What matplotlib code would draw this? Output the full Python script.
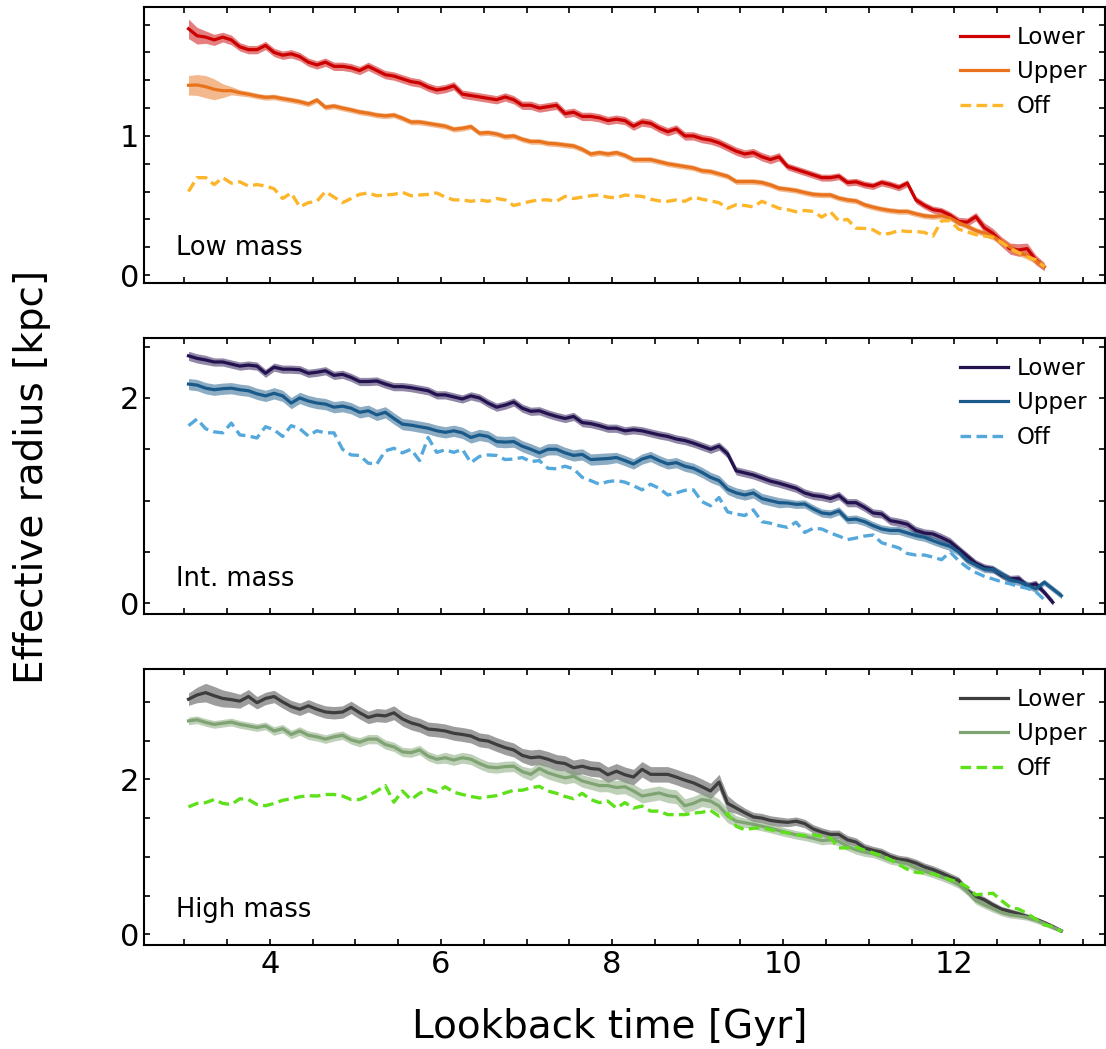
import numpy as np
import matplotlib
matplotlib.use('Agg')
import matplotlib.pyplot as plt
from matplotlib.ticker import MultipleLocator

# lookback time grid [Gyr], shorter series just stop earlier
lookback_time = np.round(np.arange(3.05, 13.26, 0.1), 2)

# ---- Low mass ----
low_lower = [1.77, 1.72, 1.71, 1.69, 1.71, 1.69, 1.64, 1.62, 1.62, 1.65,
             1.60, 1.58, 1.59, 1.57, 1.53, 1.51, 1.53, 1.50, 1.50, 1.49,
             1.47, 1.50, 1.47, 1.44, 1.43, 1.41, 1.39, 1.38, 1.35, 1.33,
             1.34, 1.36, 1.30, 1.29, 1.28, 1.27, 1.26, 1.28, 1.26, 1.22,
             1.22, 1.20, 1.21, 1.22, 1.16, 1.17, 1.14, 1.14, 1.13, 1.11,
             1.12, 1.11, 1.07, 1.10, 1.09, 1.055, 1.03, 1.05, 1.00, 1.00,
             0.98, 0.97, 0.95, 0.92, 0.89, 0.87, 0.88, 0.85, 0.83, 0.85,
             0.78, 0.76, 0.74, 0.72, 0.70, 0.70, 0.71, 0.665, 0.67, 0.65,
             0.64, 0.665, 0.65, 0.63, 0.66, 0.54, 0.50, 0.47, 0.46, 0.43,
             0.385, 0.38, 0.42, 0.34, 0.30, 0.24, 0.19, 0.18, 0.19, 0.11,
             0.06]
low_lower_err = [0.07, 0.06, 0.045, 0.04, 0.035, 0.035, 0.03, 0.03, 0.03, 0.03,
                 0.03, 0.03, 0.03, 0.03, 0.03, 0.03, 0.03, 0.03, 0.03, 0.03,
                 0.03, 0.03, 0.03, 0.03, 0.03, 0.03, 0.03, 0.03, 0.03, 0.03,
                 0.03, 0.03, 0.03, 0.03, 0.03, 0.03, 0.03, 0.03, 0.03, 0.03,
                 0.03, 0.03, 0.03, 0.03, 0.03, 0.03, 0.03, 0.03, 0.03, 0.03,
                 0.03, 0.03, 0.03, 0.03, 0.03, 0.03, 0.03, 0.03, 0.03, 0.03,
                 0.03, 0.03, 0.03, 0.03, 0.03, 0.03, 0.03, 0.03, 0.03, 0.03,
                 0.025, 0.025, 0.025, 0.025, 0.025, 0.025, 0.025, 0.025, 0.025, 0.025,
                 0.025, 0.025, 0.025, 0.025, 0.025, 0.025, 0.025, 0.025, 0.025, 0.025,
                 0.03, 0.03, 0.03, 0.035, 0.035, 0.035, 0.04, 0.045, 0.04, 0.035,
                 0.03]
low_upper = [1.364, 1.366, 1.354, 1.335, 1.325, 1.325, 1.31, 1.30, 1.287, 1.277,
             1.28, 1.268, 1.258, 1.246, 1.23, 1.258, 1.206, 1.215, 1.20, 1.187,
             1.172, 1.163, 1.15, 1.144, 1.15, 1.127, 1.10, 1.10, 1.09, 1.08,
             1.07, 1.048, 1.055, 1.067, 1.02, 1.024, 1.014, 0.995, 1.00, 0.976,
             0.96, 0.96, 0.947, 0.943, 0.935, 0.928, 0.904, 0.87, 0.88, 0.87,
             0.88, 0.86, 0.83, 0.83, 0.83, 0.815, 0.80, 0.79, 0.78, 0.77,
             0.75, 0.744, 0.727, 0.71, 0.672, 0.672, 0.672, 0.665, 0.648, 0.624,
             0.617, 0.608, 0.593, 0.58, 0.576, 0.576, 0.553, 0.54, 0.533, 0.505,
             0.488, 0.474, 0.464, 0.457, 0.457, 0.44, 0.426, 0.42, 0.426, 0.41,
             0.378, 0.35, 0.32, 0.30, 0.278, 0.24, 0.20, 0.163, 0.14, 0.105,
             0.06]
low_upper_err = [0.07, 0.075, 0.08, 0.075, 0.05, 0.03, 0.022, 0.02, 0.02, 0.02,
                 0.02, 0.02, 0.02, 0.02, 0.02, 0.02, 0.02, 0.02, 0.02, 0.02,
                 0.02, 0.02, 0.02, 0.02, 0.02, 0.02, 0.02, 0.02, 0.02, 0.02,
                 0.02, 0.02, 0.02, 0.02, 0.02, 0.02, 0.02, 0.02, 0.02, 0.02,
                 0.02, 0.02, 0.02, 0.02, 0.02, 0.02, 0.02, 0.02, 0.02, 0.02,
                 0.02, 0.02, 0.02, 0.02, 0.02, 0.02, 0.02, 0.02, 0.02, 0.02,
                 0.02, 0.02, 0.02, 0.02, 0.02, 0.02, 0.02, 0.02, 0.02, 0.02,
                 0.02, 0.02, 0.02, 0.02, 0.02, 0.02, 0.02, 0.02, 0.02, 0.02,
                 0.02, 0.02, 0.02, 0.02, 0.02, 0.02, 0.02, 0.02, 0.02, 0.02,
                 0.02, 0.02, 0.022, 0.022, 0.025, 0.025, 0.025, 0.025, 0.025, 0.025,
                 0.02]
low_off = [0.60, 0.70, 0.70, 0.65, 0.70, 0.66, 0.67, 0.64, 0.65, 0.64,
           0.62, 0.55, 0.59, 0.49, 0.52, 0.53, 0.60, 0.56, 0.52, 0.55,
           0.58, 0.59, 0.57, 0.575, 0.58, 0.595, 0.57, 0.575, 0.58, 0.59,
           0.56, 0.54, 0.54, 0.53, 0.54, 0.53, 0.55, 0.54, 0.50, 0.515,
           0.53, 0.54, 0.54, 0.53, 0.565, 0.55, 0.56, 0.57, 0.576, 0.56,
           0.555, 0.575, 0.57, 0.565, 0.545, 0.533, 0.53, 0.54, 0.53, 0.56,
           0.545, 0.533, 0.52, 0.48, 0.505, 0.50, 0.49, 0.53, 0.505, 0.48,
           0.47, 0.455, 0.464, 0.457, 0.416, 0.455, 0.39, 0.40, 0.337, 0.335,
           0.325, 0.29, 0.30, 0.32, 0.313, 0.313, 0.306, 0.28, 0.39, 0.39,
           0.33, 0.31, 0.29, 0.28, 0.27, 0.235, 0.19, 0.16, 0.13, 0.11,
           0.06]

# ---- Intermediate mass ----
int_lower = [2.41, 2.385, 2.37, 2.35, 2.35, 2.33, 2.31, 2.32, 2.31, 2.24,
             2.30, 2.28, 2.28, 2.275, 2.24, 2.25, 2.265, 2.22, 2.23, 2.20,
             2.16, 2.16, 2.165, 2.135, 2.11, 2.11, 2.10, 2.085, 2.07, 2.03,
             2.03, 2.01, 1.99, 2.02, 2.00, 1.95, 1.91, 1.93, 1.96, 1.90,
             1.87, 1.875, 1.845, 1.82, 1.80, 1.82, 1.76, 1.75, 1.73, 1.705,
             1.705, 1.68, 1.69, 1.68, 1.66, 1.64, 1.625, 1.60, 1.585, 1.56,
             1.53, 1.50, 1.53, 1.455, 1.29, 1.27, 1.25, 1.22, 1.19, 1.17,
             1.145, 1.12, 1.075, 1.05, 1.04, 1.02, 1.05, 0.98, 0.98, 0.935,
             0.88, 0.87, 0.805, 0.79, 0.77, 0.71, 0.685, 0.675, 0.64, 0.60,
             0.53, 0.46, 0.39, 0.35, 0.334, 0.276, 0.237, 0.243, 0.17, 0.19,
             0.107, 0.01]
int_lower_err = [0.045, 0.045, 0.045, 0.04, 0.04, 0.04, 0.04, 0.04, 0.04, 0.04,
                 0.04, 0.04, 0.04, 0.04, 0.04, 0.04, 0.04, 0.04, 0.04, 0.04,
                 0.04, 0.04, 0.04, 0.04, 0.04, 0.04, 0.04, 0.04, 0.04, 0.04,
                 0.04, 0.04, 0.04, 0.04, 0.04, 0.04, 0.04, 0.04, 0.04, 0.04,
                 0.04, 0.04, 0.04, 0.04, 0.04, 0.04, 0.04, 0.04, 0.04, 0.04,
                 0.04, 0.04, 0.04, 0.04, 0.04, 0.04, 0.04, 0.04, 0.04, 0.04,
                 0.04, 0.04, 0.04, 0.04, 0.04, 0.04, 0.04, 0.04, 0.04, 0.04,
                 0.04, 0.04, 0.04, 0.04, 0.04, 0.04, 0.04, 0.04, 0.04, 0.04,
                 0.04, 0.04, 0.04, 0.04, 0.04, 0.04, 0.04, 0.04, 0.04, 0.04,
                 0.035, 0.035, 0.035, 0.035, 0.035, 0.035, 0.035, 0.035, 0.035, 0.035,
                 0.03, 0.03]
int_upper = [2.135, 2.125, 2.095, 2.08, 2.09, 2.095, 2.08, 2.07, 2.04, 2.02,
             2.045, 2.02, 1.95, 2.00, 1.97, 1.95, 1.94, 1.91, 1.92, 1.90,
             1.86, 1.875, 1.835, 1.86, 1.80, 1.745, 1.735, 1.72, 1.705, 1.68,
             1.665, 1.68, 1.66, 1.615, 1.64, 1.625, 1.575, 1.57, 1.575, 1.53,
             1.50, 1.465, 1.50, 1.50, 1.465, 1.44, 1.45, 1.40, 1.405, 1.41,
             1.42, 1.39, 1.357, 1.405, 1.43, 1.39, 1.357, 1.37, 1.335, 1.315,
             1.275, 1.227, 1.195, 1.11, 1.075, 1.055, 1.075, 1.02, 1.00, 0.98,
             0.977, 0.964, 0.967, 0.92, 0.88, 0.87, 0.90, 0.815, 0.82, 0.795,
             0.756, 0.724, 0.71, 0.71, 0.685, 0.66, 0.643, 0.61, 0.58, 0.555,
             0.50, 0.415, 0.373, 0.334, 0.33, 0.286, 0.23, 0.21, 0.18, 0.14,
             0.205, 0.14, 0.075]
int_upper_err = [0.055, 0.055, 0.055, 0.055, 0.055, 0.055, 0.055, 0.055, 0.055, 0.055,
                 0.055, 0.055, 0.055, 0.055, 0.055, 0.055, 0.055, 0.055, 0.055, 0.055,
                 0.055, 0.055, 0.055, 0.055, 0.055, 0.055, 0.055, 0.055, 0.055, 0.055,
                 0.055, 0.055, 0.055, 0.055, 0.055, 0.055, 0.055, 0.055, 0.055, 0.055,
                 0.055, 0.055, 0.055, 0.055, 0.055, 0.055, 0.055, 0.055, 0.055, 0.055,
                 0.05, 0.05, 0.05, 0.05, 0.05, 0.05, 0.05, 0.05, 0.05, 0.05,
                 0.05, 0.05, 0.05, 0.05, 0.05, 0.05, 0.05, 0.05, 0.05, 0.05,
                 0.04, 0.04, 0.04, 0.04, 0.04, 0.04, 0.04, 0.04, 0.04, 0.04,
                 0.04, 0.04, 0.04, 0.04, 0.04, 0.04, 0.04, 0.04, 0.04, 0.04,
                 0.035, 0.035, 0.035, 0.035, 0.035, 0.035, 0.035, 0.035, 0.035, 0.035,
                 0.03, 0.03, 0.03]
int_off = [1.73, 1.795, 1.70, 1.67, 1.66, 1.755, 1.64, 1.63, 1.61, 1.72,
           1.69, 1.625, 1.73, 1.70, 1.63, 1.68, 1.66, 1.66, 1.50, 1.445,
           1.44, 1.365, 1.355, 1.485, 1.51, 1.465, 1.50, 1.39, 1.615, 1.47,
           1.495, 1.47, 1.50, 1.37, 1.43, 1.445, 1.44, 1.40, 1.405, 1.42,
           1.38, 1.39, 1.315, 1.31, 1.335, 1.31, 1.227, 1.195, 1.16, 1.185,
           1.195, 1.18, 1.145, 1.105, 1.16, 1.12, 1.055, 1.075, 1.10, 1.105,
           0.99, 0.95, 1.03, 0.89, 0.87, 0.855, 0.91, 0.795, 0.78, 0.756,
           0.74, 0.79, 0.69, 0.73, 0.724, 0.685, 0.655, 0.62, 0.636, 0.655,
           0.665, 0.59, 0.565, 0.54, 0.485, 0.47, 0.47, 0.45, 0.425, 0.50,
           0.415, 0.35, 0.30, 0.263, 0.237, 0.21, 0.19, 0.165, 0.146, 0.114,
           0.036]

# ---- High mass ----
high_lower = [3.035, 3.09, 3.12, 3.08, 3.045, 3.03, 3.01, 3.07, 2.99, 3.045,
              3.07, 3.00, 2.94, 2.905, 2.95, 2.905, 2.87, 2.86, 2.87, 2.93,
              2.86, 2.80, 2.83, 2.82, 2.86, 2.78, 2.73, 2.70, 2.65, 2.64,
              2.625, 2.595, 2.58, 2.56, 2.51, 2.495, 2.45, 2.41, 2.38, 2.31,
              2.28, 2.29, 2.26, 2.22, 2.205, 2.15, 2.17, 2.14, 2.13, 2.06,
              2.105, 2.06, 2.03, 2.13, 2.065, 2.065, 2.065, 2.03, 1.99, 1.955,
              1.905, 1.85, 1.965, 1.69, 1.63, 1.57, 1.515, 1.50, 1.47, 1.455,
              1.445, 1.46, 1.43, 1.36, 1.32, 1.29, 1.29, 1.22, 1.19, 1.115,
              1.085, 1.06, 1.005, 0.97, 0.955, 0.92, 0.87, 0.835, 0.79, 0.74,
              0.695, 0.565, 0.49, 0.445, 0.38, 0.325, 0.295, 0.265, 0.23, 0.195,
              0.15, 0.10, 0.045]
high_lower_err = [0.08, 0.10, 0.12, 0.12, 0.11, 0.10, 0.09, 0.09, 0.08, 0.08,
                  0.08, 0.08, 0.08, 0.08, 0.08, 0.08, 0.08, 0.08, 0.08, 0.08,
                  0.08, 0.08, 0.085, 0.085, 0.09, 0.09, 0.09, 0.09, 0.09, 0.09,
                  0.09, 0.09, 0.09, 0.09, 0.09, 0.09, 0.09, 0.09, 0.09, 0.09,
                  0.10, 0.10, 0.10, 0.10, 0.10, 0.10, 0.10, 0.10, 0.10, 0.10,
                  0.10, 0.10, 0.10, 0.10, 0.10, 0.10, 0.10, 0.10, 0.10, 0.10,
                  0.10, 0.10, 0.10, 0.10, 0.07, 0.06, 0.06, 0.06, 0.06, 0.06,
                  0.055, 0.055, 0.055, 0.055, 0.055, 0.055, 0.055, 0.055, 0.055, 0.055,
                  0.05, 0.05, 0.05, 0.05, 0.05, 0.05, 0.05, 0.05, 0.05, 0.05,
                  0.045, 0.045, 0.04, 0.04, 0.04, 0.035, 0.035, 0.035, 0.035, 0.03,
                  0.03, 0.03, 0.025]
high_upper = [2.755, 2.77, 2.735, 2.71, 2.725, 2.74, 2.71, 2.69, 2.67, 2.69,
              2.625, 2.655, 2.58, 2.625, 2.57, 2.55, 2.52, 2.55, 2.57, 2.51,
              2.48, 2.52, 2.52, 2.45, 2.42, 2.355, 2.345, 2.38, 2.30, 2.26,
              2.28, 2.25, 2.28, 2.26, 2.205, 2.16, 2.15, 2.165, 2.17, 2.10,
              2.065, 2.14, 2.085, 2.05, 2.02, 2.04, 1.98, 1.95, 1.92, 1.92,
              1.895, 1.905, 1.85, 1.785, 1.805, 1.825, 1.79, 1.775, 1.66, 1.69,
              1.74, 1.72, 1.655, 1.53, 1.46, 1.44, 1.42, 1.395, 1.37, 1.34,
              1.31, 1.285, 1.265, 1.24, 1.21, 1.22, 1.20, 1.135, 1.09, 1.06,
              1.04, 1.00, 0.955, 0.935, 0.91, 0.855, 0.815, 0.78, 0.74, 0.695,
              0.64, 0.55, 0.435, 0.38, 0.33, 0.28, 0.25, 0.237, 0.22, 0.185,
              0.14, 0.09, 0.047]
high_upper_err = [0.05, 0.05, 0.05, 0.05, 0.05, 0.05, 0.05, 0.05, 0.05, 0.05,
                  0.055, 0.055, 0.055, 0.055, 0.055, 0.055, 0.055, 0.055, 0.055, 0.055,
                  0.06, 0.06, 0.06, 0.06, 0.06, 0.06, 0.06, 0.06, 0.06, 0.06,
                  0.07, 0.07, 0.07, 0.07, 0.07, 0.07, 0.07, 0.07, 0.07, 0.07,
                  0.08, 0.08, 0.08, 0.08, 0.08, 0.08, 0.08, 0.08, 0.08, 0.08,
                  0.09, 0.09, 0.09, 0.09, 0.09, 0.09, 0.09, 0.09, 0.09, 0.09,
                  0.09, 0.09, 0.09, 0.09, 0.07, 0.06, 0.06, 0.06, 0.06, 0.06,
                  0.055, 0.055, 0.055, 0.055, 0.055, 0.055, 0.055, 0.055, 0.055, 0.055,
                  0.05, 0.05, 0.05, 0.05, 0.05, 0.05, 0.05, 0.05, 0.05, 0.05,
                  0.045, 0.045, 0.045, 0.045, 0.045, 0.04, 0.04, 0.04, 0.04, 0.04,
                  0.035, 0.03, 0.025]
high_off = [1.645, 1.69, 1.70, 1.74, 1.69, 1.675, 1.75, 1.74, 1.675, 1.66,
            1.69, 1.73, 1.75, 1.775, 1.79, 1.785, 1.805, 1.805, 1.785, 1.74,
            1.74, 1.79, 1.85, 1.92, 1.705, 1.85, 1.74, 1.82, 1.87, 1.835,
            1.905, 1.835, 1.805, 1.78, 1.76, 1.775, 1.79, 1.825, 1.86, 1.86,
            1.89, 1.91, 1.85, 1.82, 1.78, 1.75, 1.82, 1.74, 1.70, 1.72,
            1.63, 1.70, 1.63, 1.655, 1.59, 1.59, 1.545, 1.545, 1.545, 1.565,
            1.575, 1.60, 1.525, 1.56, 1.395, 1.35, 1.37, 1.375, 1.35, 1.325,
            1.31, 1.285, 1.275, 1.285, 1.265, 1.245, 1.115, 1.115, 1.125, 1.085,
            1.05, 1.015, 0.965, 0.90, 0.84, 0.80, 0.79, 0.78, 0.745, 0.705,
            0.67, 0.61, 0.51, 0.52, 0.53, 0.435, 0.35, 0.325, 0.27, 0.195,
            0.12, 0.10, 0.035]

panel_names = ['Low mass', 'Int. mass', 'High mass']
series_labels = ['Lower', 'Upper', 'Off']


def plot_panel(ax, series, colors, ylim, major, minor, name):
    # series = list of (values, band half width or None)
    for (values, err), color, label in zip(series, colors, series_labels):
        y = np.array(values)
        t = lookback_time[:len(y)]
        if err is not None:
            e = np.array(err)
            ax.fill_between(t, y - e, y + e, color=color, alpha=0.5, lw=0)
            ax.plot(t, y, color=color, lw=2.3, label=label)
        else:
            ax.plot(t, y, color=color, lw=2.4, ls='--', dashes=(3.2, 1.6), label=label)

    ax.set_ylim(ylim)
    ax.set_xlim(2.53, 13.76)
    ax.yaxis.set_major_locator(MultipleLocator(major))
    ax.yaxis.set_minor_locator(MultipleLocator(minor))
    ax.xaxis.set_major_locator(MultipleLocator(2))
    ax.xaxis.set_minor_locator(MultipleLocator(0.5))
    ax.tick_params(which='both', direction='in', top=True, right=True,
                   length=4, width=1.2, labelsize=22)
    for spine in ax.spines.values():
        spine.set_linewidth(1.5)
    ax.text(0.033, 0.1, name, transform=ax.transAxes, fontsize=18.5)
    ax.legend(loc='upper right', frameon=False, fontsize=16.5, borderaxespad=0.4,
              handlelength=2.1, handletextpad=0.4, labelspacing=0.5)


def main():
    fig, axes = plt.subplots(3, 1, figsize=(11.06, 10.49), dpi=100, sharex=True)
    fig.subplots_adjust(left=0.1302, right=0.9991, top=0.993, bottom=0.0991, hspace=0.201)

    plot_panel(axes[0],
               [(low_lower, low_lower_err), (low_upper, low_upper_err), (low_off, None)],
               ['#cc0000', '#e8731c', '#fdb52a'], (-0.057, 1.924), 1, 0.2, panel_names[0])
    plot_panel(axes[1],
               [(int_lower, int_lower_err), (int_upper, int_upper_err), (int_off, None)],
               ['#23124f', '#1a5a8a', '#55a8dc'], (-0.104, 2.58), 2, 0.5, panel_names[1])
    plot_panel(axes[2],
               [(high_lower, high_lower_err), (high_upper, high_upper_err), (high_off, None)],
               ['#3d3d3d', '#80a374', '#5ee01b'], (-0.139, 3.42), 2, 0.5, panel_names[2])

    fig.text(0.551, 0.021, 'Lookback time [Gyr]', ha='center', va='center', fontsize=28)
    fig.text(0.029, 0.545, 'Effective radius [kpc]', ha='center', va='center',
             rotation=90, fontsize=28)

    fig.savefig('out.png', dpi=100)


if __name__ == "__main__":
    main()
